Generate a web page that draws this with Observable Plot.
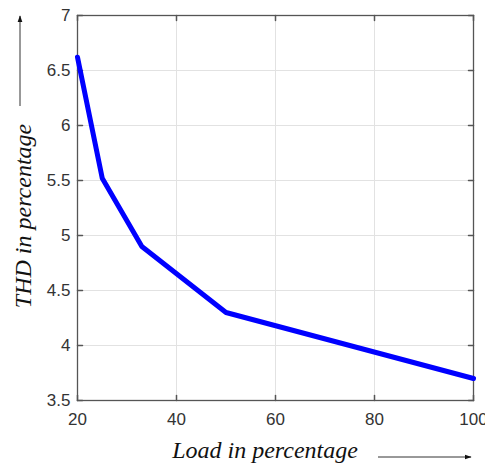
<!DOCTYPE html>
<html>
<head>
<meta charset="utf-8">
<script src="https://cdn.jsdelivr.net/npm/d3@7"></script>
<script src="https://cdn.jsdelivr.net/npm/@observablehq/plot@0.6"></script>
<style>
  html, body { margin: 0; padding: 0; background: #fff; }
</style>
</head>
<body>
<div id="chart"></div>
<script>
// THD versus load
const load = [20, 25, 33, 50, 100];
const thd = [6.62, 5.52, 4.9, 4.3, 3.7];
const xTicks = [20, 40, 60, 80, 100];
const yTicks = [3.5, 4, 4.5, 5, 5.5, 6, 6.5, 7];
const xLabel = "Load in percentage";
const yLabel = "THD in percentage";

const data = load.map((x, i) => ({x, y: thd[i]}));

// short inward tick drawn by the vector mark
const tickShape = {draw(ctx, l) { ctx.moveTo(0, 0); ctx.lineTo(0, -l); }};
const axisColor = "#555";
const fmt = d => String(d);

const chart = Plot.plot({
  width: 485,
  height: 466,
  marginLeft: 77,
  marginRight: 12,
  marginTop: 15,
  marginBottom: 66,
  style: {fontFamily: "Liberation Sans, Arial, sans-serif", fontSize: "17px", color: "#333", background: "#fff"},
  x: {domain: [20, 100], ticks: xTicks, label: null},
  y: {domain: [3.5, 7], ticks: yTicks, label: null},
  marks: [
    Plot.gridX(xTicks, {stroke: "#e2e2e2", strokeOpacity: 1}),
    Plot.gridY(yTicks, {stroke: "#e2e2e2", strokeOpacity: 1}),
    Plot.frame({stroke: axisColor, strokeWidth: 1.3}),
    // inward ticks on all four sides
    Plot.vector(xTicks, {x: d => d, y: () => 3.5, length: 5, rotate: 0, anchor: "start", shape: tickShape, stroke: axisColor}),
    Plot.vector(xTicks, {x: d => d, y: () => 7, length: 5, rotate: 180, anchor: "start", shape: tickShape, stroke: axisColor}),
    Plot.vector(yTicks, {y: d => d, x: () => 20, length: 5, rotate: 90, anchor: "start", shape: tickShape, stroke: axisColor}),
    Plot.vector(yTicks, {y: d => d, x: () => 100, length: 5, rotate: -90, anchor: "start", shape: tickShape, stroke: axisColor}),
    Plot.axisX(xTicks, {tickSize: 0, tickPadding: 12, tickFormat: fmt, fill: "#333", fontSize: 17}),
    Plot.axisY(yTicks, {tickSize: 0, tickPadding: 7, tickFormat: fmt, fill: "#333", fontSize: 17}),
    Plot.line(data, {x: "x", y: "y", stroke: "#0000ff", strokeWidth: 5, strokeLinejoin: "round"})
  ]
});

document.getElementById("chart").appendChild(chart);

// axis titles with their pointing arrows
const svg = d3.select(chart);
const defs = svg.append("defs");
defs.append("marker")
  .attr("id", "arrowhead")
  .attr("viewBox", "0 0 10 10")
  .attr("refX", 9).attr("refY", 5)
  .attr("markerWidth", 7).attr("markerHeight", 7)
  .attr("orient", "auto")
  .append("path").attr("d", "M0,1.5 L10,5 L0,8.5 Z").attr("fill", "#111");

const titleStyle = sel => sel
  .attr("text-anchor", "middle")
  .attr("font-family", "Liberation Serif, Times New Roman, serif")
  .attr("font-style", "italic")
  .attr("font-size", 24)
  .attr("fill", "#111");

svg.append("text")
  .attr("x", 265).attr("y", 458)
  .call(titleStyle)
  .text(xLabel);
svg.append("line")
  .attr("x1", 378).attr("y1", 457).attr("x2", 471).attr("y2", 457)
  .attr("stroke", "#333").attr("stroke-width", 1)
  .attr("marker-end", "url(#arrowhead)");

svg.append("text")
  .attr("transform", "translate(31,216) rotate(-90)")
  .call(titleStyle)
  .text(yLabel);
svg.append("line")
  .attr("x1", 20).attr("y1", 106).attr("x2", 20).attr("y2", 16)
  .attr("stroke", "#333").attr("stroke-width", 1)
  .attr("marker-end", "url(#arrowhead)");
</script>
</body>
</html>
